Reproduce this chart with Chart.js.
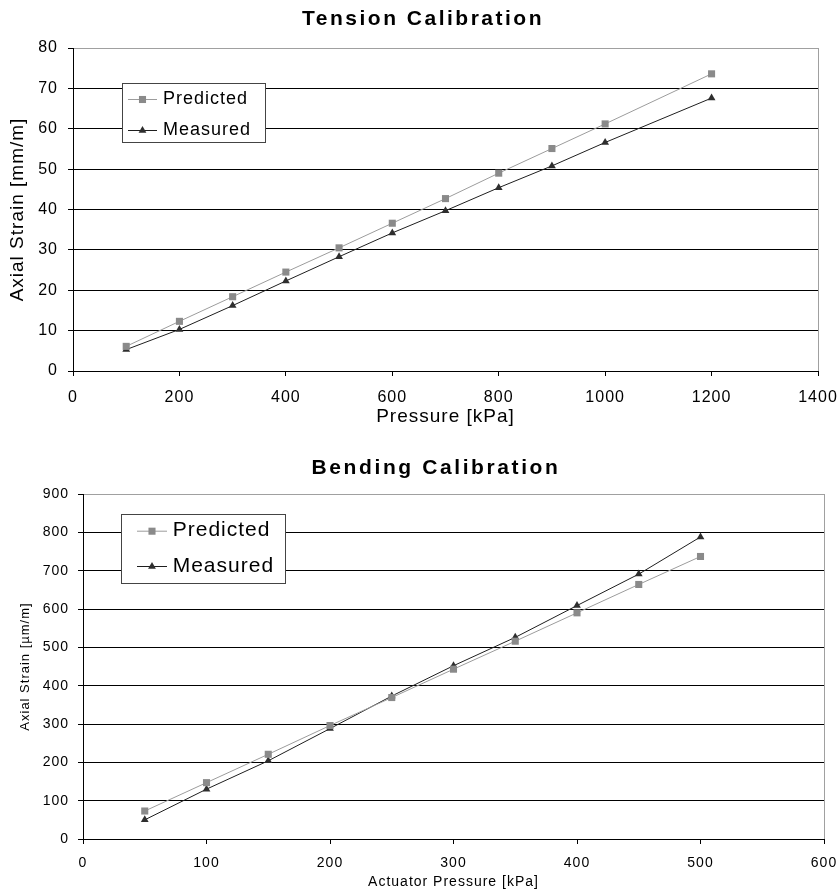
<!DOCTYPE html>
<html><head><meta charset="utf-8">
<script src="https://cdn.jsdelivr.net/npm/chart.js@4.4.0/dist/chart.umd.min.js"></script>
<style>
html,body{margin:0;padding:0;background:#fff;}
canvas{position:absolute;left:0;}
#c1{top:0;}
#c2{top:430px;}
</style></head><body>
<canvas id="c1" width="837" height="430"></canvas>
<canvas id="c2" width="837" height="462"></canvas>
<script>
// ---- data ----
const tensionPressure  = [100, 200, 300, 400, 500, 600, 700, 800, 900, 1000, 1200];
const tensionPredicted = [6.1, 12.3, 18.4, 24.5, 30.5, 36.6, 42.7, 49.0, 55.1, 61.2, 73.6];
const tensionMeasured  = [5.3, 10.3, 16.2, 22.3, 28.3, 34.2, 39.7, 45.4, 50.8, 56.6, 67.6];

const bendingPressure  = [50, 100, 150, 200, 250, 300, 350, 400, 450, 500];
const bendingPredicted = [73, 147, 221, 296, 369, 443, 516, 590, 664, 737];
const bendingMeasured  = [50, 130, 204, 288, 373, 452, 526, 609, 691, 788];

const seriesNames = ['Predicted', 'Measured'];
const FONT = "'Liberation Sans', Arial, sans-serif";

function pts(xs, ys){ return xs.map((x,i)=>({x:x, y:ys[i]})); }

function drawMarker(ctx, style, r, x, y){
  ctx.beginPath();
  if(style==='rect'){
    const s = Math.SQRT1_2*r;
    ctx.rect(x-s, y-s, 2*s, 2*s);
  } else {
    let a = 0;
    ctx.moveTo(x+Math.sin(a)*r, y-Math.cos(a)*r);
    a += 2*Math.PI/3;
    ctx.lineTo(x+Math.sin(a)*r, y-Math.cos(a)*r);
    a += 2*Math.PI/3;
    ctx.lineTo(x+Math.sin(a)*r, y-Math.cos(a)*r);
    ctx.closePath();
  }
  ctx.fill();
}

const spacingPlugin = {
  id:'spacing',
  beforeLayout(chart){ chart.ctx.letterSpacing = '1px'; },
  beforeDraw(chart){ chart.ctx.letterSpacing = '1px'; }
};

const decorPlugin = {
  id:'decor',
  afterDraw(chart, args, o){
    const ctx = chart.ctx;
    ctx.save();
    // title
    ctx.letterSpacing = o.titleSpacing + 'px';
    ctx.font = 'bold ' + o.titleSize + 'px ' + FONT;
    ctx.fillStyle = '#000';
    ctx.textAlign = 'center';
    ctx.textBaseline = 'middle';
    ctx.fillText(o.title, o.titleX, o.titleY);
    // legend box
    const b = o.box;
    ctx.fillStyle = '#fff';
    ctx.fillRect(b[0], b[1], b[2]-b[0], b[3]-b[1]);
    ctx.strokeStyle = '#444';
    ctx.lineWidth = 1;
    ctx.strokeRect(b[0]+0.5, b[1]+0.5, b[2]-b[0], b[3]-b[1]);
    ctx.letterSpacing = '1px';
    ctx.font = o.legendSize + 'px ' + FONT;
    ctx.textAlign = 'left';
    chart.data.datasets.forEach((ds, i)=>{
      const y = o.rows[i];
      ctx.strokeStyle = ds.borderColor;
      ctx.beginPath();
      ctx.moveTo(o.lineX[0], y+0.5); ctx.lineTo(o.lineX[1], y+0.5);
      ctx.stroke();
      ctx.fillStyle = ds.pointBackgroundColor;
      drawMarker(ctx, ds.pointStyle, ds.pointRadius, (o.lineX[0]+o.lineX[1])/2, y+0.5);
      ctx.fillStyle = '#000';
      ctx.fillText(ds.label, o.textX, y);
    });
    ctx.restore();
  }
};

function makeChart(id, cfg){
  const lastX = (cfg.xmax - cfg.xmin)/cfg.xstep;
  return new Chart(document.getElementById(id), {
    type:'line',
    data:{datasets:[
      {label:seriesNames[0], data:pts(cfg.xs, cfg.pred), borderColor:'#9c9c9c', borderWidth:1,
       pointStyle:'rect', pointRadius:cfg.sqR, pointBackgroundColor:'#8a8a8a', pointBorderColor:'#8a8a8a', pointBorderWidth:0},
      {label:seriesNames[1], data:pts(cfg.xs, cfg.meas), borderColor:'#1e1e1e', borderWidth:1,
       pointStyle:'triangle', pointRadius:cfg.trR, pointBackgroundColor:'#2e2e2e', pointBorderColor:'#2e2e2e', pointBorderWidth:0}
    ]},
    plugins:[spacingPlugin, decorPlugin],
    options:{
      responsive:false, animation:false, devicePixelRatio:1,
      layout:{padding:{top:cfg.top, right:cfg.right, left:0, bottom:0}},
      elements:{line:{tension:0}},
      plugins:{legend:{display:false}, tooltip:{enabled:false}, decor:cfg.decor},
      scales:{
        x:{type:'linear', min:cfg.xmin, max:cfg.xmax,
           ticks:{stepSize:cfg.xstep, color:'#000', font:{family:FONT, size:cfg.tickSize}, padding:cfg.xpad, maxRotation:0, autoSkip:false,
                  callback:v=>String(v)},
           grid:{color:c=> c.index===lastX ? '#a0a0a0' : 'rgba(0,0,0,0)', tickColor:'#000', tickLength:5, lineWidth:1},
           border:{color:'#000', width:1},
           title:{display:true, text:cfg.xtitle, color:'#000', font:{family:FONT, size:cfg.xtSize}, padding:{top:0, bottom:cfg.xtPad}},
           afterFit:s=>{ s.height = cfg.xh; s.paddingLeft = 0; s.paddingRight = 0; }
        },
        y:{min:cfg.ymin, max:cfg.ymax,
           ticks:{stepSize:cfg.ystep, color:'#000', font:{family:FONT, size:cfg.tickSize}, padding:cfg.ypad,
                  callback:v=>String(v)},
           grid:{color:c=> c.tick.value===cfg.ymax ? '#a0a0a0' : '#000', tickColor:'#000', tickLength:5, lineWidth:1},
           border:{color:'#000', width:1},
           title:{display:true, text:cfg.ytitle, color:'#000', font:{family:FONT, size:cfg.ytSize}, padding:{top:cfg.ytPad, bottom:0}},
           afterFit:s=>{ s.width = cfg.yw; s.paddingTop = 0; s.paddingBottom = 0; }
        }
      }
    }
  });
}

makeChart('c1', {
  xs:tensionPressure, pred:tensionPredicted, meas:tensionMeasured,
  xmin:0, xmax:1400, xstep:200, ymin:0, ymax:80, ystep:10,
  top:48, right:19, xh:59, yw:73,
  tickSize:16, xpad:12, ypad:10,
  xtitle:'Pressure [kPa]', xtSize:19, xtPad:1.6,
  ytitle:'Axial Strain [mm/m]', ytSize:19, ytPad:6.6,
  sqR:5, trR:4.5,
  decor:{title:'Tension Calibration', titleSize:21, titleSpacing:2.5, titleX:423, titleY:19,
         box:[122,83,265,142], rows:[99,130], lineX:[128,157], textX:163, legendSize:18}
});

makeChart('c2', {
  xs:bendingPressure, pred:bendingPredicted, meas:bendingMeasured,
  xmin:0, xmax:600, xstep:100, ymin:0, ymax:900, ystep:100,
  top:64, right:13, xh:53, yw:83,
  tickSize:14, xpad:11, ypad:9,
  xtitle:'Actuator Pressure [kPa]', xtSize:14, xtPad:1.6,
  ytitle:'Axial Strain [\u00b5m/m]', ytSize:13, ytPad:17.7,
  sqR:5, trR:4.5,
  decor:{title:'Bending Calibration', titleSize:21, titleSpacing:2.6, titleX:436, titleY:38,
         box:[121,84,285,153], rows:[100.7,136], lineX:[137,167], textX:172.7, legendSize:21}
});
</script>
</body></html>
